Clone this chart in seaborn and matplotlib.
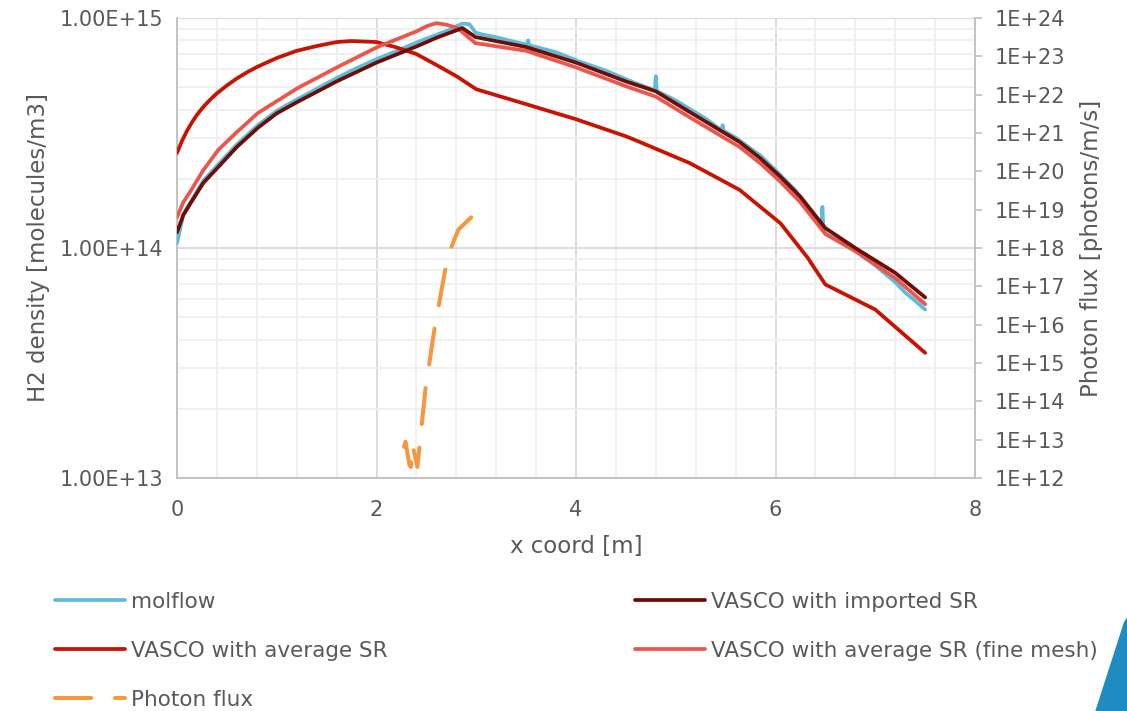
import numpy as np
import pandas as pd
import matplotlib
matplotlib.use("Agg")
import matplotlib.pyplot as plt
import seaborn as sns
from matplotlib.ticker import FixedLocator, FuncFormatter, MultipleLocator, LogLocator, NullFormatter
from matplotlib.patches import Polygon
from matplotlib.lines import Line2D

# ---------------- data ----------------
x_molflow = [0.0, 0.03, 0.063, 0.13, 0.264, 0.414, 0.6, 0.81, 1.0, 1.2, 1.4, 1.6, 1.8, 2.0,
             2.2, 2.4, 2.6, 2.75, 2.81, 2.86, 2.93, 2.96, 2.99, 3.05, 3.2, 3.4, 3.51, 3.52,
             3.53, 3.8, 4.0, 4.3, 4.6, 4.79, 4.80, 4.81, 5.0, 5.3, 5.46, 5.47, 5.48, 5.6,
             5.85, 6.0, 6.2, 6.4, 6.46, 6.47, 6.48, 6.5, 6.8, 7.0, 7.2, 7.3, 7.4, 7.5]
y_molflow = [1.05e14, 1.2e14, 1.4e14, 1.57e14, 1.96e14, 2.31e14, 2.82e14, 3.42e14, 3.95e14,
             4.42e14, 4.92e14, 5.48e14, 6.05e14, 6.62e14, 7.18e14, 7.82e14, 8.45e14, 8.95e14,
             9.25e14, 9.45e14, 9.4e14, 9.05e14, 8.65e14, 8.5e14, 8.25e14, 7.85e14, 7.65e14,
             8.0e14, 7.62e14, 7.1e14, 6.55e14, 5.9e14, 5.2e14, 4.85e14, 5.58e14, 4.82e14,
             4.38e14, 3.65e14, 3.25e14, 3.42e14, 3.23e14, 3.02e14, 2.52e14, 2.18e14, 1.78e14,
             1.33e14, 1.22e14, 1.51e14, 1.2e14, 1.16e14, 9.7e13, 8.4e13, 7.1e13, 6.4e13,
             5.9e13, 5.4e13]

x_imported = [0.0, 0.063, 0.13, 0.264, 0.414, 0.6, 0.81, 1.0, 1.2, 1.6, 2.0, 2.41, 2.6, 2.81,
              2.86, 2.99, 3.5, 4.0, 4.5, 4.8, 5.14, 5.64, 5.85, 6.05, 6.25, 6.5, 6.8, 7.2, 7.5]
y_imported = [1.17e14, 1.39e14, 1.55e14, 1.92e14, 2.25e14, 2.75e14, 3.33e14, 3.85e14,
              4.3e14, 5.3e14, 6.4e14, 7.55e14, 8.2e14, 8.87e14, 9.05e14, 8.27e14, 7.48e14,
              6.4e14, 5.3e14, 4.8e14, 3.9e14, 2.89e14, 2.45e14, 2.04e14, 1.67e14, 1.22e14,
              1.0e14, 7.8e13, 6.1e13]

x_avg = [0.0, 0.05, 0.1, 0.15, 0.2, 0.25, 0.3, 0.35, 0.4, 0.5, 0.6, 0.7, 0.8, 1.0, 1.2, 1.4,
         1.6, 1.75, 2.0, 2.2, 2.4, 2.6, 2.8, 3.0, 3.5, 4.0, 4.5, 4.64, 5.14, 5.64, 6.05, 6.32,
         6.5, 7.0, 7.5]
y_avg = [2.59e14, 2.92e14, 3.23e14, 3.52e14, 3.79e14, 4.04e14, 4.27e14, 4.49e14, 4.70e14,
         5.09e14, 5.46e14, 5.80e14, 6.12e14, 6.7e14, 7.2e14, 7.55e14, 7.86e14, 7.94e14,
         7.86e14, 7.45e14, 6.97e14, 6.25e14, 5.59e14, 4.9e14, 4.22e14, 3.63e14, 3.06e14,
         2.89e14, 2.34e14, 1.79e14, 1.28e14, 9.1e13, 6.94e13, 5.4e13, 3.5e13]

x_fine = [0.0, 0.063, 0.13, 0.264, 0.414, 0.6, 0.81, 1.21, 1.61, 2.01, 2.41, 2.5, 2.6, 2.7,
          2.81, 2.9, 2.99, 3.5, 4.0, 4.5, 4.8, 5.14, 5.64, 5.85, 6.05, 6.25, 6.5, 6.8, 7.2, 7.5]
y_fine = [1.36e14, 1.58e14, 1.75e14, 2.18e14, 2.67e14, 3.19e14, 3.86e14, 4.96e14, 6.12e14,
          7.48e14, 8.78e14, 9.2e14, 9.5e14, 9.35e14, 9.05e14, 8.4e14, 7.78e14, 7.2e14,
          6.1e14, 5.05e14, 4.55e14, 3.7e14, 2.75e14, 2.33e14, 1.94e14, 1.58e14, 1.15e14,
          9.7e13, 7.4e13, 5.7e13]

x_photon = [2.21, 2.23, 2.29, 2.33, 2.345, 2.36, 2.41, 2.45, 2.49, 2.58, 2.69, 2.74, 2.82, 2.95]
y_photon = [1.95e12, 1.95e12, 8.9e12, 2.2e12, 1.95e12, 7.5e12, 1.95e12, 2.0e13, 2.0e14,
            7.4e15, 2.75e17, 9.1e17, 3.0e18, 6.3e18]

left_ticks = [1e13, 1e14, 1e15]
right_ticks = [10.0 ** k for k in range(12, 25)]
x_ticks = [0, 2, 4, 6, 8]

labels = ["molflow", "VASCO with imported SR", "VASCO with average SR",
          "VASCO with average SR (fine mesh)", "Photon flux"]
colors = {"molflow": "#5ebbdb", "VASCO with imported SR": "#6e0c06",
          "VASCO with average SR": "#c91300", "VASCO with average SR (fine mesh)": "#e9564c",
          "Photon flux": "#f8963d"}

# ---------------- style ----------------
sns.set_theme(style="white")
plt.rcParams["font.family"] = ["DejaVu Sans"]
txt = "#595959"
fs_tick = 15
fs_title = 16.5
fs_leg = 15.5

W, H = 1127, 711
fig = plt.figure(figsize=(W / 100, H / 100), dpi=100)
ax = fig.add_axes([177 / W, 1 - 478 / H, (975 - 177) / W, (478 - 18) / H])
ax2 = ax.twinx()

lw = 2.7
dash = (9.0, 5.9)
common = dict(sort=False, estimator=None, solid_capstyle="round", solid_joinstyle="round")
sns.lineplot(x=x_molflow, y=y_molflow, ax=ax, color=colors["molflow"], lw=lw, zorder=3, **common)
sns.lineplot(x=x_avg, y=y_avg, ax=ax, color=colors["VASCO with average SR"], lw=lw, zorder=4, **common)
sns.lineplot(x=x_fine, y=y_fine, ax=ax, color=colors["VASCO with average SR (fine mesh)"], lw=lw,
             zorder=4, **common)
sns.lineplot(x=x_imported, y=y_imported, ax=ax, color=colors["VASCO with imported SR"], lw=lw,
             zorder=5, **common)
# drawn from the high end so the dash pattern starts at the curve's upper end
sns.lineplot(x=x_photon[::-1], y=y_photon[::-1], ax=ax2, color=colors["Photon flux"], lw=lw + 0.2,
             sort=False, estimator=None, zorder=5)
for ln in ax2.get_lines():
    ln.set_dashes(dash)
    ln.set_dash_capstyle("round")
    ln.set_dash_joinstyle("round")

ax.set_yscale("log")
ax.set_ylim(1e13, 1e15)
ax.set_xlim(0, 8)
ax2.set_yscale("log")
ax2.set_ylim(1e12, 1e24)

ax.yaxis.set_major_locator(FixedLocator(left_ticks))
ax.yaxis.set_minor_locator(LogLocator(base=10, subs=np.arange(2, 10)))
ax.yaxis.set_minor_formatter(NullFormatter())
ax.yaxis.set_major_formatter(FuncFormatter(lambda v, p: "{:.2E}".format(v)))
ax.xaxis.set_major_locator(FixedLocator(x_ticks))
ax.xaxis.set_minor_locator(MultipleLocator(0.4))

ax2.yaxis.set_major_locator(FixedLocator(right_ticks))
ax2.yaxis.set_minor_locator(FixedLocator([]))
ax2.yaxis.set_major_formatter(FuncFormatter(lambda v, p: "1E+{:d}".format(int(round(np.log10(v))))))

ax.grid(which="major", color="#d9d9d9", lw=1.3)
ax.grid(which="minor", color="#efefef", lw=1.3)
ax.set_axisbelow(True)

ax.tick_params(axis="both", which="both", length=0, labelsize=fs_tick, labelcolor=txt)
ax.tick_params(axis="x", pad=16)
ax.tick_params(axis="y", pad=10)
ax2.tick_params(axis="y", which="major", length=5, width=1.2, color="#bfbfbf", labelsize=fs_tick,
                labelcolor=txt, pad=9)

for a in (ax, ax2):
    for s in a.spines.values():
        s.set_visible(False)
for a, side in ((ax, "left"), (ax, "bottom"), (ax2, "right")):
    a.spines[side].set_visible(True)
    a.spines[side].set_color("#bfbfbf")
    a.spines[side].set_linewidth(1.3)

ax.set_xlabel("x coord [m]", fontsize=fs_title, color=txt, labelpad=11)
ax.set_ylabel("H2 density [molecules/m3]", fontsize=fs_title, color=txt, labelpad=7)
ax2.set_ylabel("Photon flux [photons/m/s]", fontsize=fs_title, color=txt, labelpad=11)

# legend
def handle(lbl):
    if lbl == "Photon flux":
        return Line2D([], [], color=colors[lbl], lw=lw + 0.2, dashes=dash, dash_capstyle="round")
    return Line2D([], [], color=colors[lbl], lw=lw, solid_capstyle="round")

col1 = [labels[0], labels[2], labels[4]]
col2 = [labels[1], labels[3]]
kw = dict(frameon=False, fontsize=fs_leg, handlelength=3.25, handletextpad=0.28, labelspacing=1.34,
          borderpad=0, borderaxespad=0, loc="upper left", labelcolor=txt)
leg1 = fig.legend([handle(l) for l in col1], col1, bbox_to_anchor=(55 / W, 1 - 592 / H), **kw)
leg2 = fig.legend([handle(l) for l in col2], col2, bbox_to_anchor=(635 / W, 1 - 592 / H), **kw)

# decorative corner shape
tri = Polygon([(1124 / W, 1 - 622 / H), (1.01, 1 - 600 / H), (1.01, -0.01), (1093 / W, -0.01)],
              closed=True, transform=fig.transFigure, facecolor="#1d8cc0", edgecolor="none")
fig.patches.append(tri)

fig.savefig("out.png", dpi=100)
